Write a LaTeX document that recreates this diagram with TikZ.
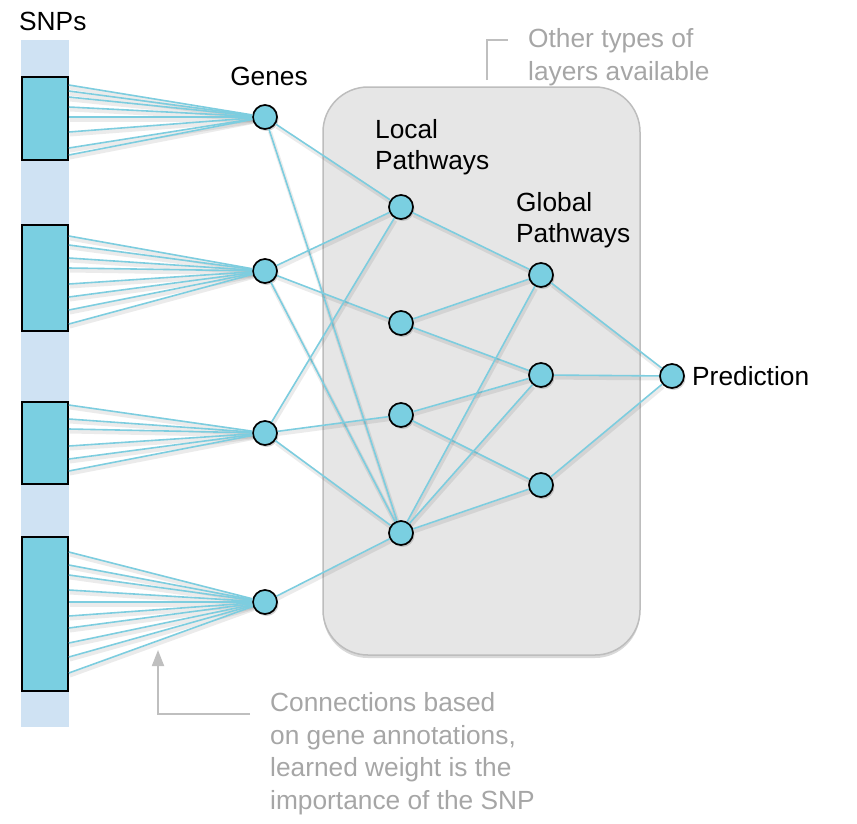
\documentclass[tikz,border=0pt]{standalone}
\usepackage{fontspec}
\setmainfont{Liberation Sans}
\usetikzlibrary{shadows,arrows.meta}
\definecolor{nodecyan}{HTML}{7ACFE1}
\definecolor{edgecyan}{HTML}{7DCDDF}
\definecolor{stripblue}{HTML}{CFE2F3}
\definecolor{boxfill}{HTML}{E6E6E6}
\definecolor{boxline}{HTML}{BDBDBD}
\definecolor{notegray}{HTML}{A6A6A6}
\definecolor{noteline}{HTML}{BFBFBF}
\begin{document}
\begin{tikzpicture}[x=1pt,y=-1pt,
  neuron/.style={circle,draw=black,line width=1.7pt,fill=nodecyan,minimum size=24pt,inner sep=0pt,
    drop shadow={opacity=0.35,shadow xshift=1.5pt,shadow yshift=-2pt}},
  snpbox/.style={draw=black,line width=1.7pt,fill=nodecyan,inner sep=0pt,minimum width=46pt},
  edge/.style={edgecyan,line width=1.6pt,
    preaction={draw=black,opacity=0.08,line width=4pt,transform canvas={shift={(1pt,-2.5pt)}}}},
  lab/.style={font=\fontsize{26.3}{31}\selectfont,align=left,inner sep=0pt},
  note/.style={font=\fontsize{26.3}{32.5}\selectfont,align=left,inner sep=0pt,text=notegray},
  noteln/.style={noteline,line width=1.8pt}
]
\useasboundingbox (0,0) rectangle (857,823);

% SNP strip
\fill[stripblue] (21,40) rectangle (69,727);

% layer box
\draw[boxline,fill=boxfill,line width=1.5pt,rounded corners=45pt,
  drop shadow={opacity=0.3,shadow xshift=0pt,shadow yshift=-3pt}] (323,87) rectangle (640,655);

% SNP boxes
\node[snpbox,minimum height=83pt] (b1) at (45,118.5) {};
\node[snpbox,minimum height=106pt] (b2) at (45,278) {};
\node[snpbox,minimum height=82pt] (b3) at (45,443) {};
\node[snpbox,minimum height=154pt] (b4) at (45,614) {};

% neurons
\node[neuron] (g1) at (265,117) {};
\node[neuron] (g2) at (265,271) {};
\node[neuron] (g3) at (265,433) {};
\node[neuron] (g4) at (265,602) {};
\node[neuron] (l1) at (401,207) {};
\node[neuron] (l2) at (401,323) {};
\node[neuron] (l3) at (401,415) {};
\node[neuron] (l4) at (401,533) {};
\node[neuron] (p1) at (541,275) {};
\node[neuron] (p2) at (541,375) {};
\node[neuron] (p3) at (541,485) {};
\node[neuron] (out) at (672,376) {};

% fan connections SNP -> gene
\foreach \y [count=\i] in {85,91,97,107,117,132,148,155}
  {\coordinate (fa\i) at (b1.east |- 0,\y); \draw[edge] (fa\i) -- (g1);}
\foreach \y [count=\i] in {236,245,258,268,284,297,310,324}
  {\coordinate (fb\i) at (b2.east |- 0,\y); \draw[edge] (fb\i) -- (g2);}
\foreach \y [count=\i] in {405,419,429,446,459,471}
  {\coordinate (fc\i) at (b3.east |- 0,\y); \draw[edge] (fc\i) -- (g3);}
\foreach \y [count=\i] in {552,565,575,590,602,616,628,643,657,673}
  {\coordinate (fd\i) at (b4.east |- 0,\y); \draw[edge] (fd\i) -- (g4);}

% layer connections
\foreach \a/\b in {g1/l1,g1/l4,g2/l1,g2/l2,g2/l4,g3/l1,g3/l3,g3/l4,g4/l4,
  l1/p1,l2/p1,l2/p2,l3/p2,l3/p3,l4/p1,l4/p2,l4/p3,p1/out,p2/out,p3/out}
  \draw[edge] (\a) -- (\b);

% labels
\node[lab,anchor=west] (snps) at (19,21) {SNPs};
\node[lab] (genes) at (269,76) {Genes};
\node[lab,anchor=north west] (local) at (375,119.5) {Local\\Pathways};
\node[lab,anchor=north west] (global) at (516,192.5) {Global\\Pathways};
\node[lab,anchor=west] (pred) at (692,376) {Prediction};

% notes
\node[note,anchor=north west] (topnote) at (528,28.5) {Other types of\\layers available};
\node[note,anchor=north west] (botnote) at (270,692.5) {Connections based\\on gene annotations,\\learned weight is the\\importance of the SNP};

\coordinate (tb1) at (487,80);
\coordinate (tb2) at (487,40);
\coordinate (tb3) at (508,40);
\draw[noteln] (tb1) -- (tb2) -- (tb3);

\coordinate (ba1) at (250,714);
\coordinate (ba2) at (158,714);
\coordinate (ba3) at (158,650);
\draw[noteln,-{Triangle[length=16pt,width=12pt]}] (ba1) -- (ba2) -- (ba3);
\end{tikzpicture}
\end{document}
